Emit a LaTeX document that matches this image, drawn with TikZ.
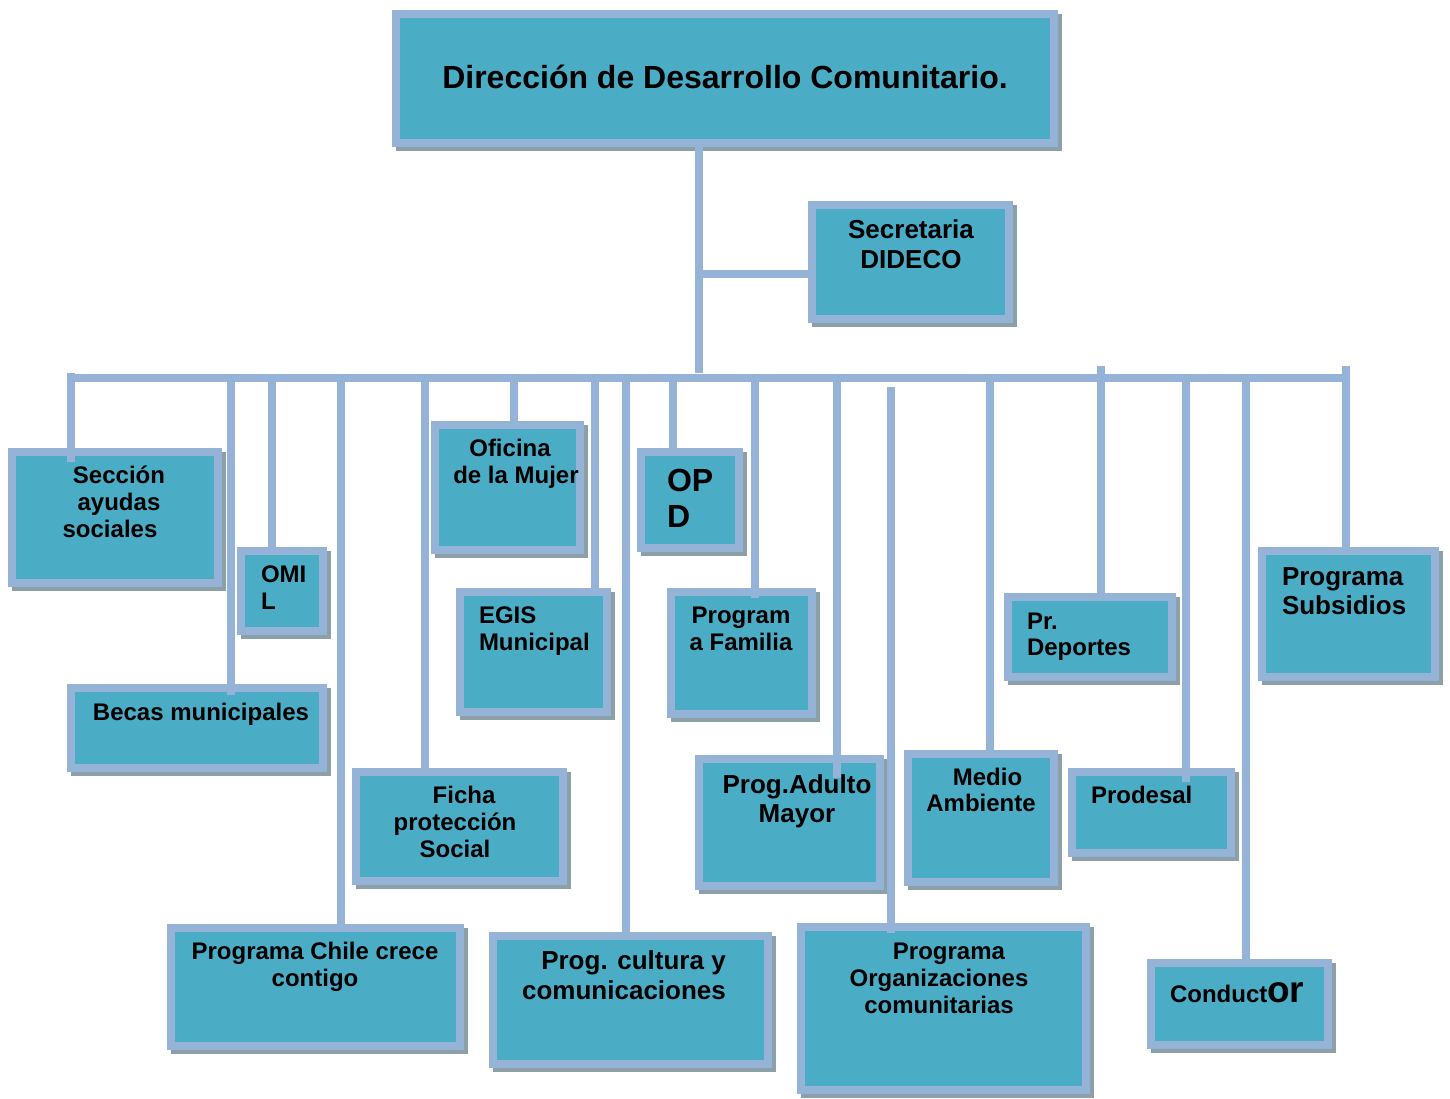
\documentclass[tikz,border=0pt]{standalone}
\usepackage{fontspec}
\setmainfont{Liberation Sans}
\definecolor{boxfill}{RGB}{75,172,198}
\definecolor{boxline}{RGB}{149,179,215}
\definecolor{boxshade}{RGB}{140,160,168}
\tikzset{
  unitbox/.style={rectangle, draw=boxline, fill=boxfill, line width=8pt,
    inner sep=0pt, outer sep=0pt},
  conn/.style={draw=boxline, line width=7.5pt},
  lbl/.style={inner sep=0pt, outer sep=0pt, text=black,
    execute at begin node={\rule{0pt}{1em}}},
  ctr/.style={lbl, anchor=north, align=center},
  lft/.style={lbl, anchor=north west, align=left},
  fsA/.style={font=\bfseries\fontsize{24}{27}\selectfont},
  fsB/.style={font=\bfseries\fontsize{26}{30}\selectfont},
  fsC/.style={font=\bfseries\fontsize{32}{36}\selectfont},
  fsT/.style={font=\bfseries\fontsize{32}{36}\selectfont},
}
% \orgbox{name}{left}{top}{right}{bottom}: outer edges of the border, with a drop shadow
\newcommand{\orgbox}[5]{%
  \fill[boxshade] ({#2+4},{#3+4}) rectangle ({#4+4},{#5+4});
  \node[unitbox, minimum width={(#4-#2-8)*1pt}, minimum height={(#5-#3-8)*1pt}]
    (#1) at ({(#2+#4)/2},{(#3+#5)/2}) {};
}
\begin{document}
\begin{tikzpicture}[x=1pt,y=-1pt]
\useasboundingbox (0,0) rectangle (1450,1098);

% boxes
\orgbox{title}{392}{10}{1058}{147}
\orgbox{secr}{808}{201}{1013}{323}
\orgbox{sec}{8}{448}{222}{587}
\orgbox{omil}{237}{547}{327}{635}
\orgbox{becas}{67}{684}{327}{772}
\orgbox{ficha}{352}{768}{567}{885}
\orgbox{chile}{167}{924}{464}{1050}
\orgbox{ofi}{431}{421}{584}{554}
\orgbox{egis}{456}{588}{611}{716}
\orgbox{cult}{489}{932}{772}{1068}
\orgbox{opd}{637}{448}{743}{552}
\orgbox{fam}{667}{588}{816}{718}
\orgbox{adu}{695}{755}{884}{890}
\orgbox{med}{904}{750}{1058}{886}
\orgbox{org}{797}{923}{1090}{1094}
\orgbox{dep}{1004}{593}{1176}{681}
\orgbox{sub}{1258}{547}{1439}{681}
\orgbox{pro}{1068}{768}{1235}{857}
\orgbox{con}{1147}{959}{1332}{1049}

% trunk, branch and bus
\coordinate (trunkEnd) at (699,373);
\coordinate (branch) at (699,274);
\coordinate (busL) at (67,378);
\coordinate (busR) at (1350,378);
\draw[conn] (trunkEnd |- title.south) -- (trunkEnd);
\draw[conn] (branch) -- (branch -| secr.west);
\draw[conn] (busL) -- (busR);

% taps on the bus
\coordinate (tSec) at (71,373);
\coordinate (tBec) at (231,378);
\coordinate (tOmi) at (272,378);
\coordinate (tChi) at (341,378);
\coordinate (tFic) at (425,378);
\coordinate (tOfi) at (514,378);
\coordinate (tEgi) at (595,378);
\coordinate (tCul) at (626,378);
\coordinate (tOpd) at (673,378);
\coordinate (tFam) at (755,378);
\coordinate (tAdu) at (837,378);
\coordinate (tOrg) at (891,387);
\coordinate (tMed) at (990,378);
\coordinate (tDep) at (1101,366);
\coordinate (tPro) at (1186,378);
\coordinate (tCon) at (1246,374);
\coordinate (tSub) at (1346,366);

% drops to the boxes
\draw[conn, shorten >=-10pt] (tSec) -- (tSec |- sec.north);
\draw[conn, shorten >=-7pt] (tBec) -- (tBec |- becas.north);
\draw[conn] (tOmi) -- (tOmi |- omil.north);
\draw[conn] (tChi) -- (tChi |- chile.north);
\draw[conn] (tFic) -- (tFic |- ficha.north);
\draw[conn] (tOfi) -- (tOfi |- ofi.north);
\draw[conn] (tEgi) -- (tEgi |- egis.north);
\draw[conn] (tCul) -- (tCul |- cult.north);
\draw[conn] (tOpd) -- (tOpd |- opd.north);
\draw[conn, shorten >=-6pt] (tFam) -- (tFam |- fam.north);
\draw[conn, shorten >=-19pt] (tAdu) -- (tAdu |- adu.north);
\draw[conn, shorten >=-6pt] (tOrg) -- (tOrg |- org.north);
\draw[conn, shorten >=-3pt] (tMed) -- (tMed |- med.north);
\draw[conn] (tDep) -- (tDep |- dep.north);
\draw[conn, shorten >=-10pt] (tPro) -- (tPro |- pro.north);
\draw[conn] (tCon) -- (tCon |- con.north);
\draw[conn] (tSub) -- (tSub |- sub.north);

% labels
\node[ctr, fsT] (titleT) at (725,56) {Dirección de Desarrollo Comunitario.};
\node[ctr, fsB] (secrT) at (911,220) {Secretaria\\DIDECO};
\node[ctr, fsA] (secT) at (119,466) {Sección\\ayudas\\sociales\hspace*{18pt}};
\node[lft, fsA] (omilT) at (261,566) {OMI\\L};
\node[ctr, fsA] (becasT) at (201,696) {Becas municipales};
\node[ctr, fsA] (fichaT) at (455,786) {\hspace*{18pt}Ficha\\protección\\Social};
\node[ctr, fsA] (chileT) at (315,942) {Programa Chile crece\\contigo};
\node[ctr, fsA] (ofiT) at (516,439) {Oficina\hspace*{12pt}\\de la Mujer};
\node[lft, fsA] (egisT) at (479,607) {EGIS\\Municipal};
\node[ctr, fsB] (cultT) at (624,951) {\hspace*{19pt}Prog. cultura y\\comunicaciones};
\node[lft, fsC] (opdT) at (667,469) {OP\\D};
\node[ctr, fsA] (famT) at (741,607) {Program\\a Familia};
\node[ctr, fsB, font=\bfseries\fontsize{26}{29}\selectfont] (aduT) at (797,775) {Prog.Adulto\\Mayor};
\node[ctr, fsA, font=\bfseries\fontsize{24}{26}\selectfont] (medT) at (981,768) {\hspace*{13pt}Medio\\Ambiente};
\node[ctr, fsA] (orgT) at (939,943) {\hspace*{20pt}Programa\\Organizaciones\\comunitarias};
\node[lft, fsA, font=\bfseries\fontsize{24}{26}\selectfont] (depT) at (1027,613) {Pr.\\Deportes};
\node[lft, fsB, font=\bfseries\fontsize{26}{29}\selectfont] (subT) at (1282,568) {Programa\\Subsidios};
\node[lft, fsA] (proT) at (1091,779) {Prodesal};
\node[lft, fsA] (conT) at (1170,978) {Conduct{\bfseries\fontsize{37}{37}\selectfont or}};
\end{tikzpicture}
\end{document}
